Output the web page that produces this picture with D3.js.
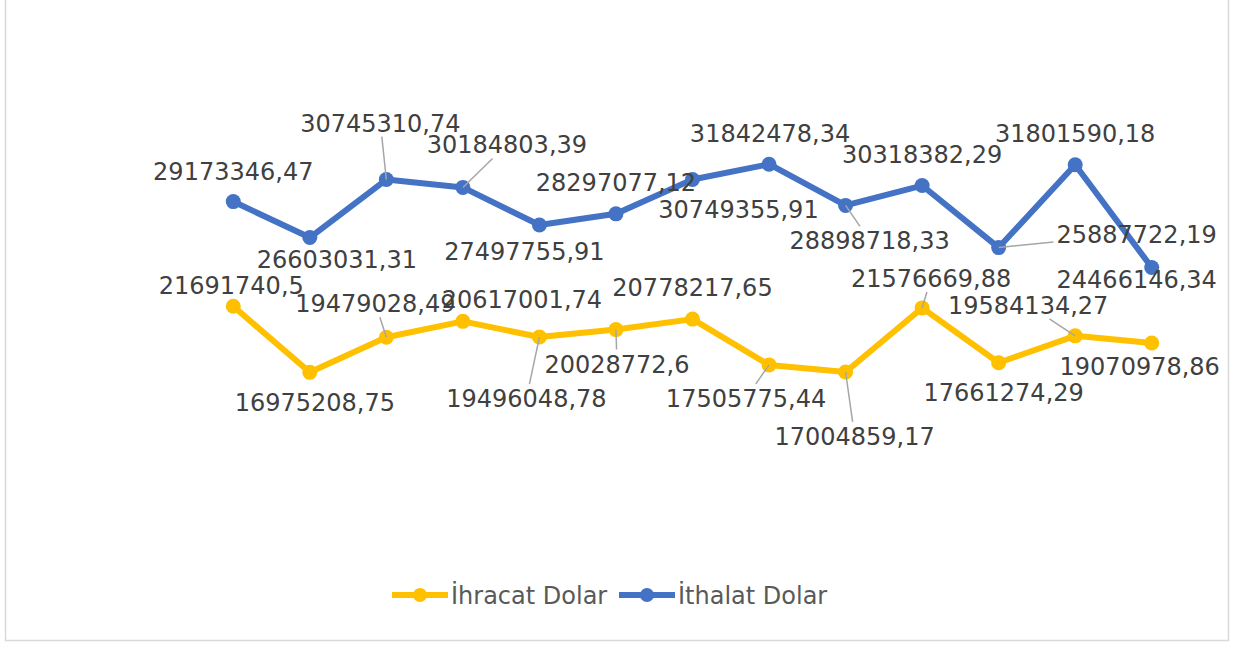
<!DOCTYPE html>
<html>
<head>
<meta charset="utf-8">
<script src="https://cdn.jsdelivr.net/npm/d3@7"></script>
<style>
  body { margin: 0; background: #fff; }
  svg { display: block; font-family: "DejaVu Sans", Verdana, sans-serif; }
</style>
</head>
<body>
<script>
'use strict';

// categories (no axis labels are shown in the chart)
let categories = ["1", "2", "3", "4", "5", "6", "7", "8", "9", "10", "11", "12", "13"];

// series values
let ihracatValues = [21691740.5, 16975208.75, 19479028.49, 20617001.74, 19496048.78, 20028772.6,
  20778217.65, 17505775.44, 17004859.17, 21576669.88, 17661274.29, 19584134.27, 19070978.86];
let ithalatValues = [29173346.47, 26603031.31, 30745310.74, 30184803.39, 27497755.91, 28297077.12,
  30749355.91, 31842478.34, 28898718.33, 30318382.29, 25887722.19, 31801590.18, 24466146.34];

let seriesNames = ["İhracat Dolar", "İthalat Dolar"];
let seriesColors = ["#FFC000", "#4472C4"];

// label placement (dx, dy from point to label centre/baseline) and leader line flag
let ihracatLabelPos = [[-2, -12], [5, 39], [-11, -25], [59, -13], [-13, 70], [1, 43],
  [0, -23], [-23, 42], [9, 73], [9, -21], [5, 38], [-47, -22], [-12, 32]];
let ihracatLeader = [0, 0, 1, 0, 1, 1, 0, 1, 1, 1, 0, 1, 0];
let ithalatLabelPos = [[0, -22], [27, 30], [-6, -48], [44, -34], [-15, 35], [0, -23],
  [46, 38], [1, -22], [24, 44], [0, -23], [138, -5], [0, -23], [-15, 21]];
let ithalatLeader = [0, 0, 1, 1, 0, 0, 0, 0, 1, 0, 1, 0, 0];

let width = 1234, height = 645;
let plot = { left: 195, right: 1190, top: 120, bottom: 470 };

let svg = d3.select("body").append("svg")
  .attr("width", width)
  .attr("height", height);

// chart border
svg.append("rect")
  .attr("x", 5.5).attr("y", -1)
  .attr("width", 1223).attr("height", 641.5)
  .attr("fill", "#fff")
  .attr("stroke", "#d9d9d9")
  .attr("stroke-width", 1.5);

let x = d3.scalePoint()
  .domain(categories)
  .range([plot.left, plot.right])
  .padding(0.5);

let y = d3.scaleLinear()
  .domain([10000000, 35000000])
  .range([plot.bottom, plot.top]);

let fmt = v => String(v).replace(".", ",");

let series = [
  { name: seriesNames[0], color: seriesColors[0], values: ihracatValues, pos: ihracatLabelPos, leader: ihracatLeader },
  { name: seriesNames[1], color: seriesColors[1], values: ithalatValues, pos: ithalatLabelPos, leader: ithalatLeader }
];

let line = d3.line()
  .x((d, i) => x(categories[i]))
  .y(d => y(d));

// lines and markers
series.forEach(s => {
  svg.append("path")
    .datum(s.values)
    .attr("fill", "none")
    .attr("stroke", s.color)
    .attr("stroke-width", 6)
    .attr("stroke-linejoin", "round")
    .attr("d", line);

  svg.append("g").selectAll("circle")
    .data(s.values)
    .enter()
    .append("circle")
    .attr("cx", (d, i) => x(categories[i]))
    .attr("cy", d => y(d))
    .attr("r", 7.5)
    .attr("fill", s.color);
});

// leader line from point toward label centre, stopped where it enters the label box
function leaderEnd(px, py, b) {
  let pad = 3;
  let x0 = b.x - pad, x1 = b.x + b.width + pad, y0 = b.y + 2 - pad, y1 = b.y + b.height - 4 + pad;
  let cx = (x0 + x1) / 2, cy = (y0 + y1) / 2;
  let dx = cx - px, dy = cy - py;
  let tEnter = 0;
  if (dx !== 0) tEnter = Math.max(tEnter, Math.min((x0 - px) / dx, (x1 - px) / dx));
  if (dy !== 0) tEnter = Math.max(tEnter, Math.min((y0 - py) / dy, (y1 - py) / dy));
  tEnter = Math.min(1, tEnter);
  return [px + dx * tEnter, py + dy * tEnter];
}

// data labels with leader lines
let leaderG = svg.append("g");
let labelG = svg.append("g");
series.forEach(s => {
  s.values.forEach((v, i) => {
    let px = x(categories[i]), py = y(v);
    let t = labelG.append("text")
      .attr("x", px + s.pos[i][0])
      .attr("y", py + s.pos[i][1])
      .attr("text-anchor", "middle")
      .attr("font-size", 24)
      .attr("fill", "#404040")
      .text(fmt(v));
    if (s.leader[i]) {
      let e = leaderEnd(px, py, t.node().getBBox());
      leaderG.append("line")
        .attr("x1", px).attr("y1", py)
        .attr("x2", e[0]).attr("y2", e[1])
        .attr("stroke", "#a6a6a6")
        .attr("stroke-width", 1.5);
    }
  });
});

// legend
let legend = svg.append("g").attr("transform", "translate(392, 595)");
let legendX = [0, 227];
series.forEach((s, i) => {
  let g = legend.append("g").attr("transform", "translate(" + legendX[i] + ",0)");
  g.append("line")
    .attr("x1", 0).attr("x2", 56)
    .attr("stroke", s.color)
    .attr("stroke-width", 6);
  g.append("circle")
    .attr("cx", 28).attr("r", 7)
    .attr("fill", s.color);
  g.append("text")
    .attr("x", 59).attr("y", 9)
    .attr("font-size", 24)
    .attr("fill", "#595959")
    .text(s.name);
});
</script>
</body>
</html>
